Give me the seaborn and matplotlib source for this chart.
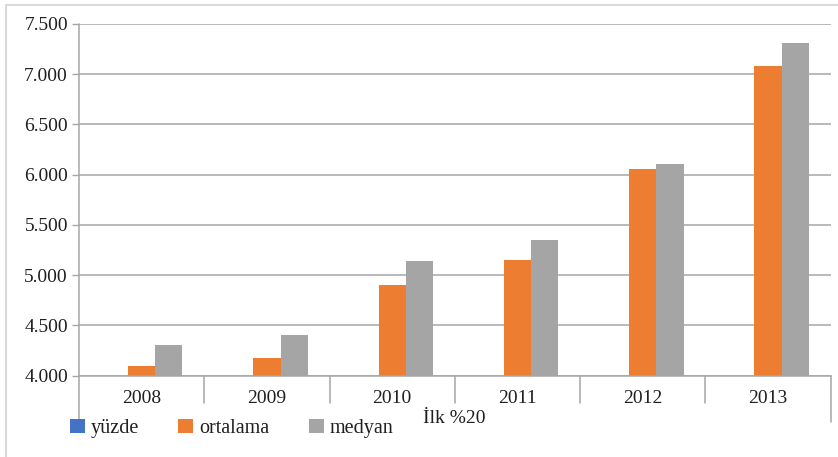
import numpy as np
import pandas as pd
import matplotlib
matplotlib.use("Agg")
import matplotlib.pyplot as plt
import matplotlib.ticker as mticker
from matplotlib.patches import Patch
from matplotlib.lines import Line2D
import matplotlib.transforms as mtransforms
import seaborn as sns

# Data: first quintile (İlk %20) income figures by year
years = ["2008", "2009", "2010", "2011", "2012", "2013"]
series = ["yüzde", "ortalama", "medyan"]
# percentage shares sit far below the 4.000 floor of the value axis
yuzde = [np.nan, np.nan, np.nan, np.nan, np.nan, np.nan]
ortalama = [4100, 4175, 4900, 5155, 6060, 7080]
medyan = [4310, 4405, 5145, 5355, 6105, 7310]
y_ticks = [4000, 4500, 5000, 5500, 6000, 6500, 7000, 7500]
x_title = "İlk %20"

colors = {"yüzde": "#4472C4", "ortalama": "#ED7D31", "medyan": "#A5A5A5"}

df = pd.DataFrame({
    "yil": years * 3,
    "seri": [s for s in series for _ in years],
    "deger": yuzde + ortalama + medyan,
})

sns.set_theme(style="white")
plt.rcParams["font.family"] = ["Liberation Serif", "DejaVu Serif"]

fig = plt.figure(figsize=(8.38, 4.57), dpi=100)
ax = fig.add_axes([0.0943, 0.1779, 0.8970, 0.7696])

sns.barplot(data=df, x="yil", y="deger", hue="seri", order=years,
            hue_order=series, palette=colors, width=0.65, gap=0,
            saturation=1, linewidth=0, legend=False, ax=ax, errorbar=None)

ax.set_ylim(y_ticks[0], y_ticks[-1])
ax.set_xlim(-0.5, len(years) - 0.5)
ax.set_yticks(y_ticks)
ax.yaxis.set_major_formatter(mticker.FuncFormatter(
    lambda v, p: f"{int(v):,}".replace(",", ".")))
ax.set_xlabel("")
ax.set_ylabel("")

grid_col = "#a6a6a6"
ax.grid(axis="y", color=grid_col, linewidth=1.1)
ax.set_axisbelow(True)
for side in ["top", "right", "left"]:
    ax.spines[side].set_visible(False)
ax.spines["bottom"].set_color(grid_col)
ax.spines["bottom"].set_linewidth(1.1)

ax.tick_params(axis="y", which="major", length=5, width=1, color=grid_col,
               labelsize=14, labelcolor="#1f1f1f", pad=3, left=True)
ax.tick_params(axis="x", length=0, labelsize=14, labelcolor="#1f1f1f", pad=10)

# category separators hanging below the axis
trans = mtransforms.blended_transform_factory(ax.transData, ax.transAxes)
for i in range(len(years) + 1):
    xpos = i - 0.5
    if i == 0:
        ax.plot([xpos, xpos], [1, -0.131], color=grid_col, lw=1.1,
                transform=trans, clip_on=False)
    elif i == len(years):
        ax.plot([xpos, xpos], [0, -0.131], color=grid_col, lw=1.1,
                transform=trans, clip_on=False)
    else:
        ax.plot([xpos, xpos], [0, -0.078], color=grid_col, lw=1.1,
                transform=trans, clip_on=False)

ax.text(0.499, -0.123, x_title, transform=ax.transAxes, ha="center",
        va="center", fontsize=14, color="#1f1f1f")

handles = [Patch(facecolor=colors[s], edgecolor="none", label=s) for s in series]
fig.legend(handles=handles, loc="center left", bbox_to_anchor=(0.083, 0.063),
           ncol=3, frameon=False, fontsize=14.5, handlelength=0.75,
           handleheight=0.75, handletextpad=0.3, columnspacing=1.95,
           borderpad=0, borderaxespad=0, labelcolor="#1f1f1f")

# light outer frame
frame_col = "#d9d9d9"
fig.add_artist(Line2D([0.007, 1.0], [0.989, 0.989], color=frame_col, lw=1.5,
                      transform=fig.transFigure))
fig.add_artist(Line2D([0.007, 0.007], [0.0, 0.989], color=frame_col, lw=1.5,
                      transform=fig.transFigure))

fig.savefig("out.png", dpi=100)
